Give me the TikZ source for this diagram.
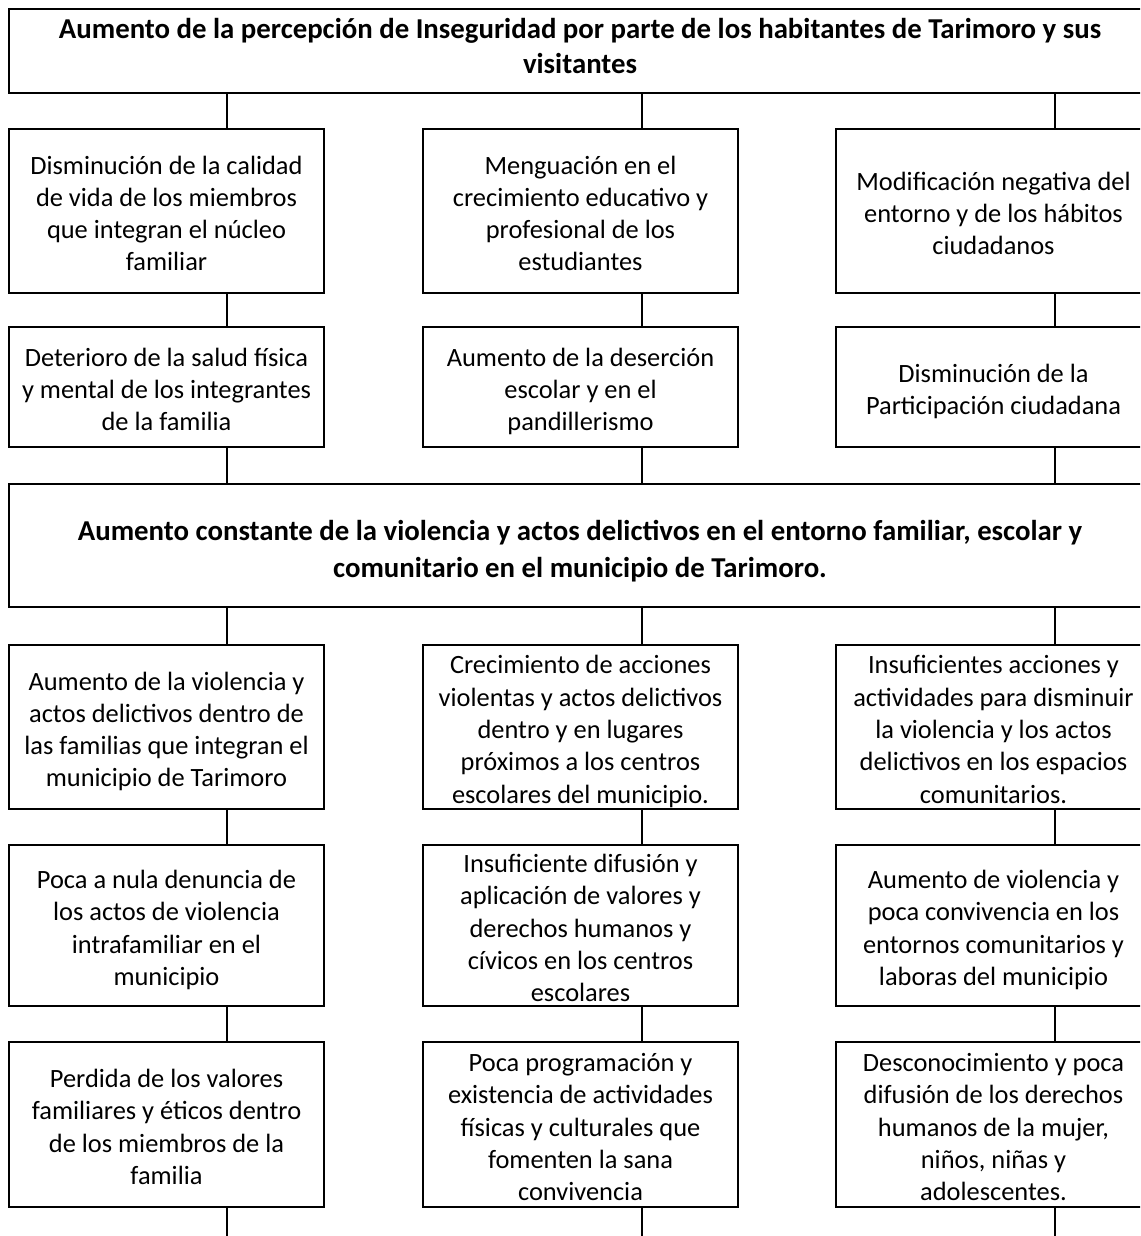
\documentclass[tikz,border=0pt]{standalone}
\usepackage{fontspec}
\setmainfont{Carlito}
\usetikzlibrary{positioning}
\tikzset{
  box/.style={draw, line width=2.6pt, inner sep=0pt, minimum width=315pt, text width=309pt, align=flush center,
    font=\fontsize{26.4}{32.3}\selectfont,
    execute at begin node={\rule{0pt}{22pt}},
    execute at end node={\rule[-7pt]{0pt}{7pt}\par\vspace*{#1}}},
  box/.default=-8pt,
  wide/.style={box=#1, minimum width=1142pt, text width=1130pt, font=\fontsize{28.8}{35}\selectfont\bfseries},
  wide/.default=-12pt,
  link/.style={line width=2.6pt}
}
\begin{document}
\begin{tikzpicture}[x=1pt,y=-1pt]
\useasboundingbox (0,0) rectangle (1140,1236);
\clip (0,0) rectangle (1140,1236);
% columns of the connectors
\coordinate (c1) at (227,0);
\coordinate (c2) at (642,0);
\coordinate (c3) at (1055,0);
% effects
\node[wide=5pt, minimum height=84pt] (top) at (580,51) {Aumento de la percepción de Inseguridad por parte de los habitantes de Tarimoro y sus\\visitantes};
\node[box, minimum height=164pt] (e11) at (166.5,211) {Disminución de la calidad\\de vida de los miembros\\que integran el núcleo\\familiar};
\node[box, minimum height=164pt] (e12) at (580.5,211) {Menguación en el\\crecimiento educativo y\\profesional de los\\estudiantes};
\node[box, minimum height=164pt] (e13) at (993.5,211) {Modificación negativa del\\entorno y de los hábitos\\ciudadanos};
\node[box, minimum height=120pt] (e21) at (166.5,387) {Deterioro de la salud física\\y mental de los integrantes\\de la familia};
\node[box, minimum height=120pt] (e22) at (580.5,387) {Aumento de la deserción\\escolar y en el\\pandillerismo};
\node[box, minimum height=120pt] (e23) at (993.5,387) {Disminución de la\\Participación ciudadana};
% problem
\node[wide=-12pt, minimum height=123pt, font=\fontsize{28.8}{37}\selectfont\bfseries] (mid) at (580,545.5) {Aumento constante de la violencia y actos delictivos en el entorno familiar, escolar y\\comunitario en el municipio de Tarimoro.};
% causes
\node[box, minimum height=164pt] (k11) at (166.5,727) {Aumento de la violencia y\\actos delictivos dentro de\\las familias que integran el\\municipio de Tarimoro};
\node[box, minimum height=164pt] (k12) at (580.5,727) {Crecimiento de acciones\\violentas y actos delictivos\\dentro y en lugares\\próximos a los centros\\escolares del municipio.};
\node[box, minimum height=164pt] (k13) at (993.5,727) {Insuficientes acciones y\\actividades para disminuir\\la violencia y los actos\\delictivos en los espacios\\comunitarios.};
\node[box, minimum height=161pt] (k21) at (166.5,925.5) {Poca a nula denuncia de\\los actos de violencia\\intrafamiliar en el\\municipio};
\node[box, minimum height=161pt] (k22) at (580.5,925.5) {Insuficiente difusión y\\aplicación de valores y\\derechos humanos y\\cívicos en los centros\\escolares};
\node[box, minimum height=161pt] (k23) at (993.5,925.5) {Aumento de violencia y\\poca convivencia en los\\entornos comunitarios y\\laboras del municipio};
\node[box, minimum height=165pt] (k31) at (166.5,1124.5) {Perdida de los valores\\familiares y éticos dentro\\de los miembros de la\\familia};
\node[box, minimum height=165pt] (k32) at (580.5,1124.5) {Poca programación y\\existencia de actividades\\físicas y culturales que\\fomenten la sana\\convivencia};
\node[box, minimum height=165pt] (k33) at (993.5,1124.5) {Desconocimiento y poca\\difusión de los derechos\\humanos de la mujer,\\niños, niñas y\\adolescentes.};
\coordinate (bot) at (0,1240);
% connectors
\foreach \i in {1,2,3} {
  \draw[link] (top.south -| c\i) -- (e1\i.north -| c\i);
  \draw[link] (e1\i.south -| c\i) -- (e2\i.north -| c\i);
  \draw[link] (e2\i.south -| c\i) -- (mid.north -| c\i);
  \draw[link] (mid.south -| c\i) -- (k1\i.north -| c\i);
  \draw[link] (k1\i.south -| c\i) -- (k2\i.north -| c\i);
  \draw[link] (k2\i.south -| c\i) -- (k3\i.north -| c\i);
  \draw[link] (k3\i.south -| c\i) -- (bot -| c\i);
}
\end{tikzpicture}
\end{document}
